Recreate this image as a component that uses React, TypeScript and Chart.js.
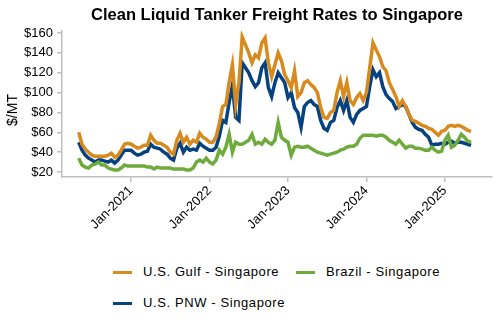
import React, { useEffect, useRef } from "react";
import { Chart, registerables } from "chart.js";

Chart.register(...registerables);

// Semi-monthly observations starting May 2020
const START_YEAR = 2020;
const START_MONTH = 5;

const chartTitle = "Clean Liquid Tanker Freight Rates to Singapore";
const yAxisTitle = "$/MT";
const seriesNames = ["U.S. Gulf - Singapore", "Brazil - Singapore", "U.S. PNW - Singapore"];

const gulf = [
  60, 48, 43, 40, 37, 36, 36, 36, 36, 37,
  39, 35, 37, 42, 48, 49, 48, 46, 44, 45,
  47, 47, 57, 52, 49, 49, 47, 45, 40, 38,
  52, 59, 50, 55, 48, 52, 50, 59, 55, 53,
  50, 50, 55, 69, 86, 88, 110, 128, 88, 110,
  156, 148, 140, 130, 138, 135, 150, 155, 130, 116,
  128, 140, 132, 118, 112, 105, 122, 96, 100, 110,
  112, 108, 105, 100, 85, 75, 74, 80, 82, 100,
  112, 96, 110, 92, 88, 95, 99, 92, 100, 125,
  150, 143, 136, 126, 122, 110, 103, 96, 86, 92,
  86, 78, 72, 71, 69, 67, 66, 64, 63, 60,
  57, 61, 62, 66, 67, 66, 67, 66, 64, 62,
  61,
];

const brazil = [
  34, 27, 25, 24, 27, 28, 30, 27, 27, 24,
  23, 22, 22, 24, 27, 26, 26, 26, 26, 26,
  26, 25, 25, 23, 25, 24, 24, 24, 24, 23,
  23, 23, 23, 22, 22, 24, 30, 32, 30, 34,
  30, 28, 32, 42, 38, 45, 58, 40, 50, 48,
  48, 50, 52, 58, 48, 50, 48, 53, 50, 48,
  52, 70, 55, 52, 50, 37, 45, 46, 45, 45,
  46, 44, 42, 40, 39, 38, 37, 38, 39, 40,
  42, 43, 45, 46, 46, 48, 54, 57, 57, 57,
  57, 56, 57, 57, 55, 52, 50, 48, 52, 48,
  44, 46, 46, 44, 44, 43, 42, 42, 45, 42,
  40, 41, 52, 57, 45, 47, 52, 58, 55, 51,
  50,
];

const pnw = [
  50, 42, 37, 34, 32, 30, 32, 32, 31, 30,
  32, 29, 32, 37, 42, 42, 42, 39, 37, 38,
  40, 41, 48, 45, 44, 43, 40, 38, 34, 32,
  44, 49, 40, 45, 42, 43, 42, 49, 46, 44,
  42, 42, 45, 56, 72, 70, 90, 107, 75, 72,
  130, 125, 120, 112, 106, 110, 125, 130, 105, 96,
  110, 120, 115, 110, 95, 100, 85, 80, 65, 86,
  90, 92, 88, 86, 72, 64, 62, 70, 72, 85,
  92, 82, 92, 75, 70, 78, 82, 84, 86, 106,
  123, 116, 120, 106, 98, 94, 91, 84, 86, 88,
  86, 78, 70, 65, 63, 62, 58, 55, 47, 48,
  48, 49, 48, 50, 51, 49, 50, 50, 49, 48,
  47,
];

const yearTicks = [2021, 2022, 2023, 2024, 2025];
const dollarTicks = [20, 40, 60, 80, 100, 120, 140, 160];

const colors = ["#D78A1E", "#6FAA3C", "#06427F"];
const FONT = "'Liberation Sans', Arial, sans-serif";

function obsX(i: number) {
  return START_YEAR + (START_MONTH - 1) / 12 + i / 24;
}

function toPoints(arr: number[]) {
  return arr.map((v, i) => ({ x: obsX(i), y: v }));
}

export default function App() {
  const ref = useRef<HTMLCanvasElement | null>(null);

  useEffect(() => {
    document.body.style.margin = "0";
    const canvas = ref.current;
    if (!canvas) return;
    const tickFont = { family: FONT, size: 13 };
    const chart = new Chart(canvas, {
      type: "line",
      data: {
        datasets: [gulf, brazil, pnw].map((arr, k) => ({
          label: seriesNames[k],
          data: toPoints(arr),
          borderColor: colors[k],
          backgroundColor: colors[k],
          borderWidth: 3.5,
          pointRadius: 0,
          tension: 0,
          fill: false,
        })),
      },
      options: {
        animation: false,
        responsive: false,
        maintainAspectRatio: false,
        layout: { padding: { left: 0, right: 8, top: 31, bottom: 0 } },
        plugins: {
          legend: { display: false },
          tooltip: { enabled: false },
          title: { display: false },
        },
        scales: {
          x: {
            type: "linear",
            min: 2020.12,
            max: 2025.6,
            afterBuildTicks: (s: any) => {
              s.ticks = yearTicks.map((v) => ({ value: v }));
            },
            afterFit: (s: any) => {
              s.height = 73;
            },
            ticks: {
              autoSkip: false,
              minRotation: 45,
              maxRotation: 45,
              color: "#000",
              font: tickFont,
              padding: 1,
              callback: (v: any) => `Jan-${v}`,
            },
            grid: { display: true, drawOnChartArea: false, drawTicks: true, tickLength: 5, color: "#bfbfbf", lineWidth: 1.5 },
            border: { display: true, color: "#bfbfbf", width: 1.5 },
          },
          y: {
            type: "linear",
            min: 15,
            max: 162,
            afterBuildTicks: (s: any) => {
              s.ticks = dollarTicks.map((v) => ({ value: v }));
            },
            afterFit: (s: any) => {
              s.width = 62;
            },
            ticks: {
              color: "#000",
              font: tickFont,
              padding: 4,
              callback: (v: any) => `$${v}`,
            },
            grid: { display: true, drawOnChartArea: false, drawTicks: true, tickLength: 5, color: "#bfbfbf", lineWidth: 1.5 },
            border: { display: true, color: "#bfbfbf", width: 1.5 },
          },
        },
      },
    } as any);
    return () => chart.destroy();
  }, []);

  const legendItems = [
    { k: 0, left: 113, top: 272 },
    { k: 1, left: 296, top: 272 },
    { k: 2, left: 113, top: 303 },
  ];

  return (
    <div style={{ position: "relative", width: 500, height: 330, background: "#fff" }}>
      <canvas ref={ref} width={500} height={250} style={{ display: "block", width: 500, height: 250 }} />
      <div
        style={{
          position: "absolute",
          left: 62,
          top: 4,
          width: 430,
          height: 20,
          lineHeight: "20px",
          textAlign: "center",
          fontFamily: FONT,
          fontSize: 16.5,
          fontWeight: "bold",
          color: "#000",
          whiteSpace: "nowrap",
        }}
      >
        {chartTitle}
      </div>
      <div
        style={{
          position: "absolute",
          left: 12 - 25,
          top: 110 - 8,
          width: 50,
          height: 16,
          lineHeight: "16px",
          textAlign: "center",
          fontFamily: FONT,
          fontSize: 14,
          color: "#000",
          transform: "rotate(-90deg)",
          whiteSpace: "nowrap",
        }}
      >
        {yAxisTitle}
      </div>
      {legendItems.map((it) => (
        <React.Fragment key={it.k}>
          <div
            style={{
              position: "absolute",
              left: it.left,
              top: it.top - 1.5,
              width: 19,
              height: 3,
              background: colors[it.k],
            }}
          />
          <div
            style={{
              position: "absolute",
              left: it.left + 30,
              top: it.top - 8,
              height: 16,
              lineHeight: "16px",
              fontFamily: FONT,
              fontSize: 13,
              letterSpacing: "0.6px",
              color: "#000",
              whiteSpace: "nowrap",
            }}
          >
            {seriesNames[it.k]}
          </div>
        </React.Fragment>
      ))}
    </div>
  );
}
